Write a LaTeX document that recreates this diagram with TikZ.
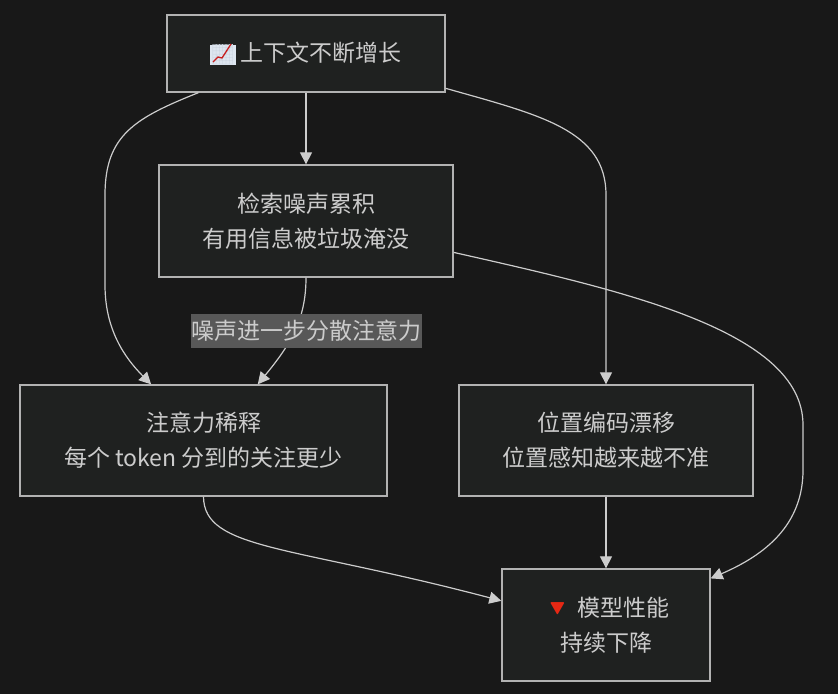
\documentclass[tikz,border=0pt]{standalone}
\usepackage{xcolor}
\usepackage{fontspec}
\usepackage{tikz}
\usetikzlibrary{positioning,arrows.meta}
\setmainfont{Noto Sans CJK SC}
\newfontfamily\emojifont{Noto Emoji}
\definecolor{pagedark}{RGB}{24,24,24}
\definecolor{boxdark}{RGB}{31,33,32}
\definecolor{linegrey}{RGB}{204,204,204}
\definecolor{bordergrey}{RGB}{178,178,178}
\definecolor{labelgrey}{RGB}{88,88,88}
\definecolor{chartpale}{RGB}{222,230,240}
\definecolor{chartfaint}{RGB}{205,214,226}
\definecolor{chartred}{RGB}{200,30,30}
\definecolor{downred}{RGB}{230,40,20}
\newcommand{\chartmark}{\fboxsep=0pt\colorbox{chartpale}{\textcolor{chartfaint}{\emojifont\fontsize{20}{20}\selectfont 📈}}}
\newcommand{\downmark}{\textcolor{downred}{\emojifont 🔻}}
\tikzset{
  flowbox/.style={draw=bordergrey, fill=boxdark, line width=1.3pt, text=linegrey, align=center, inner sep=0pt},
  flow/.style={draw=linegrey, line width=1.2pt, ->}
}

\begin{document}
\begin{tikzpicture}[x=1pt, y=-1pt, >={Triangle[length=12pt, width=12pt]},
    font=\fontsize{23}{35}\selectfont]
  \fill[pagedark] (0,0) rectangle (838,694);
  % boxes
  \node[flowbox, minimum width=278pt, minimum height=77pt] (growth) at (306,53.5) {\chartmark\ 上下文不断增长};
  \node[flowbox, minimum width=294pt, minimum height=112pt] (noise) at (306,221) {检索噪声累积\\有用信息被垃圾淹没};
  \node[flowbox, minimum width=367pt, minimum height=111pt] (dilute) at (203.5,440.5) {注意力稀释\\每个 token 分到的关注更少};
  \node[flowbox, minimum width=294pt, minimum height=111pt] (drift) at (606,440.5) {位置编码漂移\\位置感知越来越不准};
  \node[flowbox, minimum width=208pt, minimum height=112pt] (perf) at (606,625) {\downmark\ 模型性能\\持续下降};
  % red line of the chart mark
  \draw[chartred, line width=1.3pt] (213,62) -- (218,57) -- (222,58) -- (231,44);
  % connectors
  \draw[flow] (growth) -- (noise);
  \draw[flow] (drift) -- (perf);
  \draw[flow] (growth.200.8) .. controls (135,118) and (105,135) .. (105,195)
     -- (105,285) .. controls (105,330) and (125,358) .. (dilute.133);
  \draw[flow] (growth.-14.7) .. controls (540,115) and (606,130) .. (606,195) -- (drift.north);
  \draw[flow] (noise.south) .. controls (306,320) and (290,345) .. (dilute.46);
  \draw[flow] (noise.-12.65) .. controls (620,290) and (803,330) .. (803,425)
     -- (803,470) .. controls (803,525) and (765,555) .. (perf.24.6);
  \draw[flow] (dilute.south) .. controls (204,550) and (290,545) .. (perf.167);
  % label on its connector
  \node[fill=labelgrey, text=linegrey, inner xsep=0pt, inner ysep=0pt, minimum width=231pt, minimum height=34pt] (noiselabel) at (306,331) {噪声进一步分散注意力};
\end{tikzpicture}
\end{document}
